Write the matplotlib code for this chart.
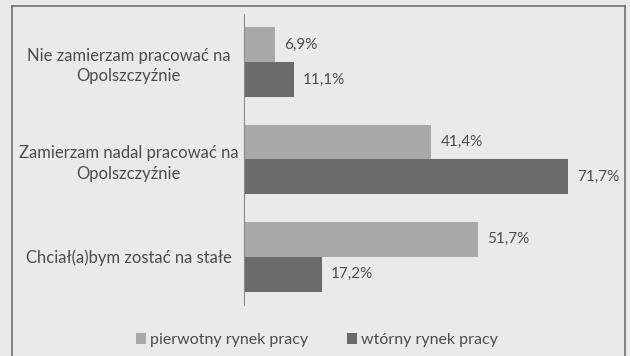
import matplotlib.pyplot as plt
import numpy as np
from matplotlib.lines import Line2D

plt.rcParams['font.family'] = ['Lato', 'DejaVu Sans']

categories = ['Nie zamierzam pracować na\nOpolszczyźnie',
              'Zamierzam nadal pracować na\nOpolszczyźnie',
              'Chciał(a)bym zostać na stałe']
primary = [6.9, 41.4, 51.7]
secondary = [11.1, 71.7, 17.2]
series_names = ['pierwotny rynek pracy', 'wtórny rynek pracy']

paper = '#e9ebe9'
light = '#a9a9a9'
dark = '#6a6a6a'
ink = '#4c4c4c'

fig = plt.figure(figsize=(6.3, 3.56), dpi=100, facecolor=paper)
ax = fig.add_axes([0.387, 0.143, 0.575, 0.818])
ax.set_facecolor(paper)

y = np.arange(len(categories))
h = 0.36
b1 = ax.barh(y - h / 2, primary, height=h, color=light, label=series_names[0])
b2 = ax.barh(y + h / 2, secondary, height=h, color=dark, label=series_names[1])

for bars, vals in ((b1, primary), (b2, secondary)):
    for bar, v in zip(bars, vals):
        ax.text(bar.get_width() + 2, bar.get_y() + bar.get_height() / 2,
                ('%.1f%%' % v).replace('.', ','), va='center', ha='left',
                fontsize=11, color=ink)

ax.set_xlim(0, 80)
ax.set_ylim(2.5, -0.5)
ax.set_xticks([])
ax.set_yticks(y)
ax.set_yticklabels(categories, fontsize=12, color=ink, ha='center',
                   multialignment='center', linespacing=1.35)
ax.tick_params(axis='y', length=0, pad=83)
for s in ['top', 'right', 'bottom']:
    ax.spines[s].set_visible(False)
ax.spines['left'].set_color('#8a8a8a')
ax.spines['left'].set_linewidth(0.8)

fig.legend(handles=[b1, b2], loc='center', bbox_to_anchor=(0.503, 0.045),
           ncol=2, frameon=False, fontsize=11.5, labelcolor=ink,
           handlelength=0.65, handleheight=0.65, handletextpad=0.25,
           columnspacing=2.4)

# chart frame (bottom edge runs off the page)
fc = '#707070'
fig.add_artist(Line2D([0.019, 0.019], [0.0, 0.983], color=fc, lw=1.2))
fig.add_artist(Line2D([0.019, 0.992], [0.983, 0.983], color=fc, lw=1.2))
fig.add_artist(Line2D([0.992, 0.992], [0.0, 0.983], color=fc, lw=1.2))

fig.savefig('out.png', dpi=100, facecolor=paper)
